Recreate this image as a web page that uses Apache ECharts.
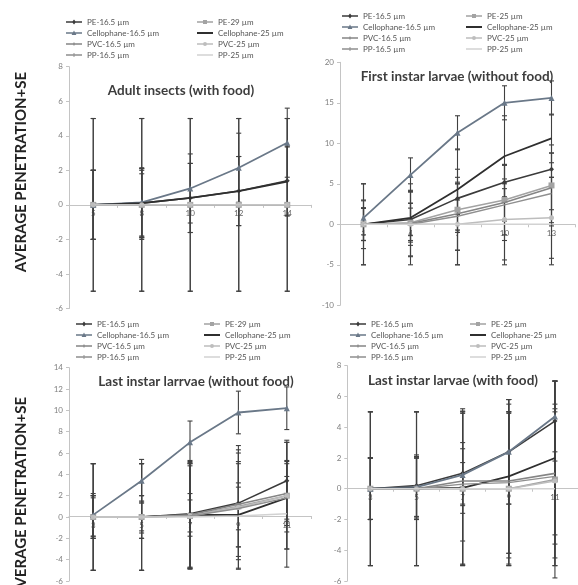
<!DOCTYPE html>
<html><head><meta charset="utf-8">
<script src="https://cdn.jsdelivr.net/npm/echarts@6/dist/echarts.min.js"></script>
<style>html,body{margin:0;padding:0;background:#fff}#c{width:578px;height:585px}</style>
</head><body><div id="c"></div>
<script>
// ---------- DATA ----------
// Panel 1: Adult insects (with food)
const adultCats = ['5','8','10','12','14'];
const adultNames = ['PE-16.5 µm','PE-29 µm','Cellophane-16.5 µm','Cellophane-25 µm','PVC-16.5 µm','PVC-25 µm','PP-16.5 µm','PP-25 µm'];
const adultPE165 = [0,0.1,0.4,0.8,1.4];
const adultPE29 = [0,0,0,0,0];
const adultCel165 = [0,0.15,0.95,2.15,3.6];
const adultCel25 = [0,0.1,0.4,0.8,1.35];
const adultPVC165 = [0,0,0,0,0];
const adultPVC25 = [0,0,0,0,0];
const adultPP165 = [0,0,0,0,0];
const adultPP25 = [0,0,0,0,0];
const adultSE_PE165 = [2,2,2,2,2];
const adultSE_PE29 = [5,5,5,5,5];
const adultSE_Cel165 = [2,2,2,2,2];
const adultSE_Cel25 = [2,2,2,2,2];
const adultSE_PVC165 = [5,5,5,5,5];
const adultSE_PVC25 = [2,1.8,0,0,0];
const adultSE_PP165 = [2,2,0,0,0];
const adultSE_PP25 = [0,0,0,0,0];

// Panel 2: First instar larvae (without food)
const firstCats = ['1','4','7','10','13'];
const firstNames = ['PE-16.5 µm','PE-25 µm','Cellophane-16.5 µm','Cellophane-25 µm','PVC-16.5 µm','PVC-25 µm','PP-16.5 µm','PP-25 µm'];
const firstPE165 = [0,0.6,3.2,5.2,6.8];
const firstPE25 = [0,0.2,1.8,3.0,4.8];
const firstCel165 = [0.8,6.1,11.3,15.0,15.6];
const firstCel25 = [0,0.8,4.3,8.4,10.6];
const firstPVC165 = [0,0.1,1.3,2.7,4.5];
const firstPVC25 = [0,0,0,0.6,0.8];
const firstPP165 = [0,0,1.0,2.4,3.8];
const firstPP25 = [0,0,0,0,0];
const firstSE_PE165 = [2,2,2,2.1,2];
const firstSE_PE25 = [3,2.4,5,4.3,5];
const firstSE_Cel165 = [2.1,2.1,2.1,2.1,2.1];
const firstSE_Cel25 = [2,3.4,5,5,3];
const firstSE_PVC165 = [2,4,4.5,4.7,4.3];
const firstSE_PVC25 = [5,4,5,5,5];
const firstSE_PP165 = [2,2,2,2,2];
const firstSE_PP25 = [5,5,5,5,5];

// Panel 3: Last instar larvae (without food)
const lastNFCats = ['3','5','7','9','11'];
const lastNFNames = ['PE-16.5 µm','PE-29 µm','Cellophane-16.5 µm','Cellophane-25 µm','PVC-16.5 µm','PVC-25 µm','PP-16.5 µm','PP-25 µm'];
const lastNFPE165 = [0,0,0.3,1.3,3.4];
const lastNFPE29 = [0,0,0.1,1.0,2.0];
const lastNFCel165 = [0.2,3.4,7.0,9.8,10.2];
const lastNFCel25 = [0,0,0.2,0.2,1.8];
const lastNFPVC165 = [0,0,0.2,1.2,2.2];
const lastNFPVC25 = [0,0,0.1,0.9,2.0];
const lastNFPP165 = [0,0,0.1,0.8,1.8];
const lastNFPP25 = [0,0,0,0.1,0.3];
const lastNFSE_PE165 = [2,2,5,5,3.8];
const lastNFSE_PE29 = [5,5,5,5,5];
const lastNFSE_Cel165 = [2,2,2,2,2];
const lastNFSE_Cel25 = [2,2,2,3,3.2];
const lastNFSE_PVC165 = [2,1.5,5,4,3];
const lastNFSE_PVC25 = [5,5,4.9,5.8,5];
const lastNFSE_PP165 = [1.8,1.3,1.5,2,2];
const lastNFSE_PP25 = [5,5,4.8,4.9,5];

// Panel 4: Last instar larvae (with food)
const lastWFCats = ['3','5','7','9','11'];
const lastWFNames = ['PE-16.5 µm','PE-25 µm','Cellophane-16.5 µm','Cellophane-25 µm','PVC-16.5 µm','PVC-25 µm','PP-16.5 µm','PP-25 µm'];
const lastWFPE165 = [0,0.2,1.0,2.4,4.4];
const lastWFPE25 = [0,0,0,0,0.6];
const lastWFCel165 = [0,0.1,0.9,2.4,4.7];
const lastWFCel25 = [0,0,0.05,0.8,2.0];
const lastWFPVC165 = [0,0,0.5,0.5,1.0];
const lastWFPVC25 = [0,0,0,0,0.5];
const lastWFPP165 = [0,0,0.3,0.4,0.8];
const lastWFPP25 = [0,0,0,0,0];
const lastWFSE_PE165 = [2,2,2,3.4,2.6];
const lastWFSE_PE25 = [5,5,5,5,6.4];
const lastWFSE_Cel165 = [2,2,4.3,3.4,2.3];
const lastWFSE_Cel25 = [2,2,5,5,5];
const lastWFSE_PVC165 = [2,2,2.1,5,6];
const lastWFSE_PVC25 = [5,5,5,5,5];
const lastWFSE_PP165 = [2,2,1.4,4.6,4.4];
const lastWFSE_PP25 = [5,5,4.9,4.9,5];

// ---------- STYLES ----------
const PAD = 'M0,0h0.01v0.01h-0.01Z M19.99,9.99h0.01v0.01h-0.01Z ';
const LINE = 'M0,4.2H20V5.8H0Z ';
const sty = [
  {color:'#3b3b3b', symbol:'diamond', size:5, width:1.6, icon:'path://'+PAD+LINE+'M10,2L12.5,5L10,8L7.5,5Z'},
  {color:'#a3a3a3', symbol:'rect', size:6, width:1.6, icon:'path://'+PAD+LINE+'M7.5,2.5H12.5V7.5H7.5Z'},
  {color:'#6a7888', symbol:'triangle', size:6, width:1.8, icon:'path://'+PAD+LINE+'M10,2L13,7.5H7Z'},
  {color:'#2f2f2f', symbol:'none', size:0, width:1.8, icon:'path://'+PAD+'M0,3.9H20V6.1H0Z'},
  {color:'#858585', symbol:'none', size:0, width:1.6, icon:'path://'+PAD+LINE+'M9.3,3H10.7V7H9.3Z'},
  {color:'#bdbdbd', symbol:'circle', size:5, width:1.6, icon:'path://'+PAD+LINE+'M7.5,5A2.5,2.5 0 1 1 12.5,5A2.5,2.5 0 1 1 7.5,5Z'},
  {color:'#8f8f8f', symbol:'none', size:0, width:1.4, icon:'path://'+PAD+LINE+'M9.4,2.5H10.6V7.5H9.4Z'},
  {color:'#d2d2d2', symbol:'none', size:0, width:1.4, icon:'path://'+PAD+LINE}
];

const panels = [
  {title:'Adult insects (with food)', cats:adultCats, names:adultNames, min:-6, max:8, step:2,
   vals:[adultPE165,adultPE29,adultCel165,adultCel25,adultPVC165,adultPVC25,adultPP165,adultPP25],
   se:[adultSE_PE165,adultSE_PE29,adultSE_Cel165,adultSE_Cel25,adultSE_PVC165,adultSE_PVC25,adultSE_PP165,adultSE_PP25],
   grid:{left:69, top:66.7, width:242.5, height:241.8}, tx:176, ty:86, lg:[66,17,197]},
  {title:'First instar larvae (without food)', cats:firstCats, names:firstNames, min:-10, max:20, step:5,
   vals:[firstPE165,firstPE25,firstCel165,firstCel25,firstPVC165,firstPVC25,firstPP165,firstPP25],
   se:[firstSE_PE165,firstSE_PE25,firstSE_Cel165,firstSE_Cel25,firstSE_PVC165,firstSE_PVC25,firstSE_PP165,firstSE_PP25],
   grid:{left:340, top:62.3, width:235, height:243}, tx:452, ty:72, lg:[342,11,466]},
  {title:'Last instar larrvae (without food)', cats:lastNFCats, names:lastNFNames, min:-6, max:14, step:2,
   vals:[lastNFPE165,lastNFPE29,lastNFCel165,lastNFCel25,lastNFPVC165,lastNFPVC25,lastNFPP165,lastNFPP25],
   se:[lastNFSE_PE165,lastNFSE_PE29,lastNFSE_Cel165,lastNFSE_Cel25,lastNFSE_PVC165,lastNFSE_PVC25,lastNFSE_PP165,lastNFSE_PP25],
   grid:{left:69, top:367.7, width:242, height:216.6}, tx:191, ty:377, lg:[76,319,204]},
  {title:'Last instar larvae (with food)', cats:lastWFCats, names:lastWFNames, min:-6, max:8, step:2,
   vals:[lastWFPE165,lastWFPE25,lastWFCel165,lastWFCel25,lastWFPVC165,lastWFPVC25,lastWFPP165,lastWFPP25],
   se:[lastWFSE_PE165,lastWFSE_PE25,lastWFSE_Cel165,lastWFSE_Cel25,lastWFSE_PVC165,lastWFSE_PVC25,lastWFSE_PP165,lastWFSE_PP25],
   grid:{left:347.3, top:365.7, width:234, height:215.3}, tx:448, ty:376, lg:[350,319,470]}
];

const FONT = 'Lato, "Open Sans", sans-serif';
const grids=[], xAxes=[], yAxes=[], series=[], titles=[], legends=[];

function errRender(params, api){
  const x = api.value(0), lo = api.value(1), hi = api.value(2);
  const a = api.coord([x, hi]), b = api.coord([x, lo]);
  const w = 2.5, st = {stroke:'#404040', lineWidth:1.1};
  return {type:'group', children:[
    {type:'line', shape:{x1:a[0],y1:a[1],x2:b[0],y2:b[1]}, style:st},
    {type:'line', shape:{x1:a[0]-w,y1:a[1],x2:a[0]+w,y2:a[1]}, style:st},
    {type:'line', shape:{x1:b[0]-w,y1:b[1],x2:b[0]+w,y2:b[1]}, style:st}
  ]};
}

panels.forEach((p, i) => {
  grids.push(Object.assign({containLabel:false}, p.grid));
  // x axis sits on the zero line of the value axis
  const zeroOffset = -p.grid.height * (0 - p.min) / (p.max - p.min);
  xAxes.push({type:'category', gridIndex:i, data:p.cats, boundaryGap:true, position:'bottom', offset:zeroOffset,
    axisLine:{onZero:false, lineStyle:{color:'#c4c4c4', width:1}},
    axisTick:{show:true, length:3, lineStyle:{color:'#c4c4c4'}},
    axisLabel:{fontSize:8, color:'#666', margin:5, fontFamily:FONT},
    splitLine:{show:false}});
  yAxes.push({type:'value', gridIndex:i, min:p.min, max:p.max, interval:p.step,
    axisLine:{show:true, lineStyle:{color:'#c4c4c4'}},
    axisTick:{show:true, length:3, lineStyle:{color:'#c4c4c4'}},
    axisLabel:{fontSize:8, color:'#808080', margin:6, fontFamily:FONT},
    splitLine:{show:false}});
  const errData = [];
  p.vals.forEach((arr, k) => arr.forEach((v, j) => {
    const s = p.se[k][j];
    if (s > 0) errData.push([j, v - s, v + s]);
  }));
  series.push({type:'custom', xAxisIndex:i, yAxisIndex:i, renderItem:errRender,
    data:errData, encode:{x:0, y:[1,2]}, z:1, silent:true});
  p.vals.forEach((arr, k) => {
    const s = sty[k];
    series.push({type:'line', name:p.names[k], xAxisIndex:i, yAxisIndex:i, data:arr,
      symbol:s.symbol, symbolSize:s.size, showSymbol:s.symbol!=='none',
      lineStyle:{color:s.color, width:s.width}, itemStyle:{color:s.color},
      z:2+k, animation:false});
  });
  titles.push({text:p.title, left:p.tx, top:p.ty, textAlign:'center', textVerticalAlign:'middle',
    textStyle:{fontSize:13.5, fontWeight:'bold', color:'#3d3d3d', fontFamily:FONT}});
  const lgBase = {orient:'vertical', itemWidth:16, itemHeight:8, itemGap:1,
    textStyle:{fontSize:8, color:'#555', fontFamily:FONT, lineHeight:10}, padding:0,
    selectedMode:false};
  const item = k => ({name:p.names[k], icon:sty[k].icon, itemStyle:{color:sty[k].color}});
  legends.push(Object.assign({}, lgBase, {left:p.lg[0], top:p.lg[1], data:[item(0),item(2),item(4),item(6)]}));
  legends.push(Object.assign({}, lgBase, {left:p.lg[2], top:p.lg[1], data:[item(1),item(3),item(5),item(7)]}));
});

const chart = echarts.init(document.getElementById('c'), null, {renderer:'canvas'});
chart.setOption({
  backgroundColor:'#fff', animation:false,
  title:titles, legend:legends, grid:grids, xAxis:xAxes, yAxis:yAxes, series:series,
  graphic:[
    {type:'text', x:21, y:172, rotation:Math.PI/2, style:{text:'AVERAGE PENETRATION+SE',
      font:'bold 15px ' + FONT, fill:'#222', textAlign:'center', textVerticalAlign:'middle'}},
    {type:'text', x:21, y:497, rotation:Math.PI/2, style:{text:'AVERAGE PENETRATION+SE',
      font:'bold 15px ' + FONT, fill:'#222', textAlign:'center', textVerticalAlign:'middle'}}
  ]
});
</script></body></html>
